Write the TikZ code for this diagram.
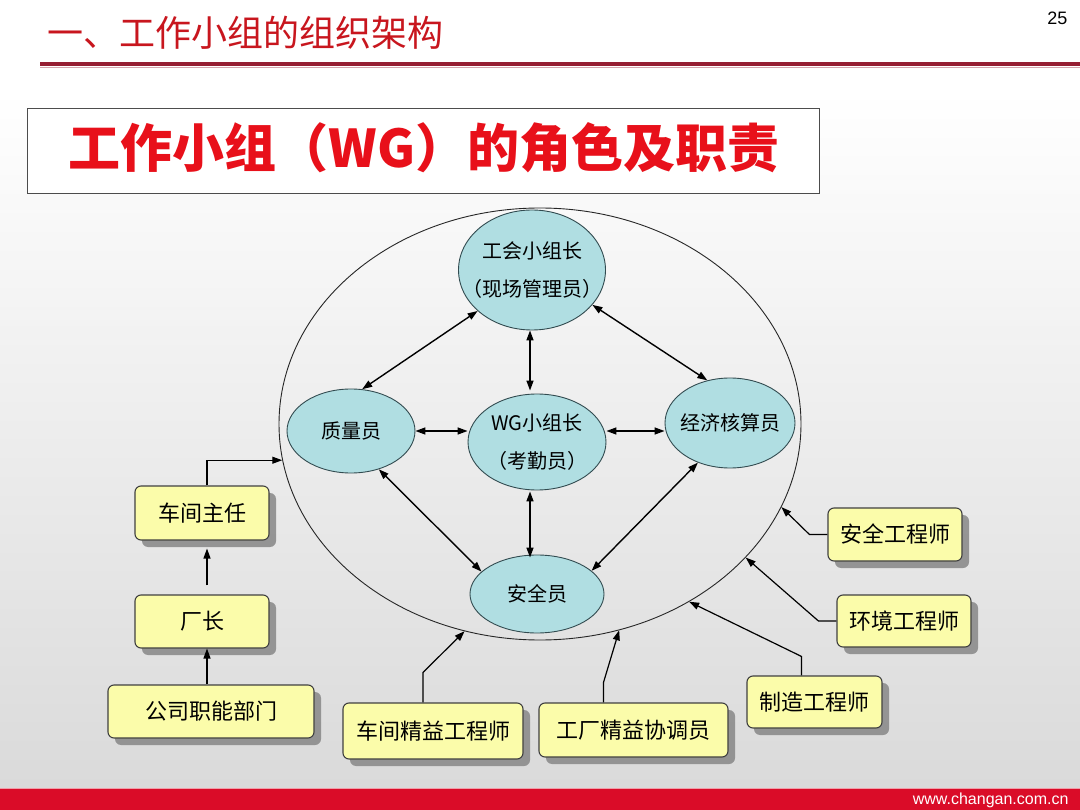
\documentclass[tikz,border=0pt]{standalone}
\usepackage{fontspec}
\setmainfont{Noto Sans CJK SC}
\newfontfamily\arial{Liberation Sans}
\usetikzlibrary{shapes.geometric,shadows,arrows.meta}
\definecolor{titlered}{RGB}{200,22,30}
\definecolor{boxred}{RGB}{232,16,26}
\definecolor{linered}{RGB}{150,30,50}
\definecolor{bandred}{RGB}{218,12,40}
\definecolor{ellfill}{RGB}{176,222,226}
\definecolor{ellborder}{RGB}{50,75,80}
\definecolor{yfill}{RGB}{251,252,170}
\definecolor{bggray}{RGB}{218,218,218}
\tikzset{
  role/.style={ellipse, draw=ellborder, line width=0.9pt, fill=ellfill, inner sep=0pt},
  roletext/.style={align=center, inner sep=0pt, font=\fontsize{20}{38}\selectfont},
  ybox/.style={rectangle, rounded corners=6pt, draw=black!75, line width=1.1pt, fill=yfill,
    inner sep=0pt, font=\fontsize{22}{26}\selectfont,
    drop shadow={shadow xshift=7pt, shadow yshift=-7pt, fill=black!45, opacity=0.9}},
  link/.style={line width=1.4pt, {Triangle[length=10pt,width=7pt]}-{Triangle[length=10pt,width=7pt]}},
  feed/.style={line width=1.2pt, -{Triangle[length=10pt,width=7pt]}},
}
\begin{document}
\begin{tikzpicture}[x=1pt,y=-1pt]
\useasboundingbox (0,0) rectangle (1080,810);
% background
\fill[white] (0,0) rectangle (1080,90);
\shade[top color=white, bottom color=bggray] (0,90) rectangle (1080,788);
% header
\node[font=\fontsize{36}{40}\selectfont, text=titlered, anchor=west] (maintitle) at (44,33) {一、工作小组的组织架构};
\node[font=\arial\fontsize{18}{20}\selectfont, anchor=east] (pagenum) at (1071,18) {25};
\draw[linered, line width=3.5pt] (40,64) -- (1080,64);
\draw[linered!40, line width=1pt] (40,67.5) -- (1080,67.5);
% footer band
\fill[bandred] (0,788) rectangle (1080,810);
\draw[bandred!40, line width=1pt] (0,788) -- (1080,788);
\node[font=\arial\fontsize{16}{18}\selectfont, text=white, anchor=east] (url) at (1072,800) {www.changan.com.cn};
% title box
\node[draw=black!70, line width=0.8pt, fill=white, minimum width=792pt, minimum height=85pt,
  inner sep=0pt] (tbox) at (423,150.5) {};
\node[font=\fontsize{52}{58}\selectfont\bfseries, text=boxred] (ttext) at (424,148) {工作小组（WG）的角色及职责};
% big ellipse
\node[ellipse, draw=black!85, line width=0.9pt, minimum width=522pt, minimum height=432pt, inner sep=0pt] (big) at (540,424) {};
% roles
\node[role, minimum width=147pt, minimum height=120pt] (gh) at (532,270) {};
\node[roletext] (ghtxt) at (gh.center) {工会小组长\\（现场管理员）};
\node[role, minimum width=128pt, minimum height=84pt] (zl) at (351,431) {};
\node[roletext] (zltxt) at (zl.center) {质量员};
\node[role, minimum width=138pt, minimum height=96pt] (wg) at (537,442) {};
\node[roletext] (wgtxt) at (wg.center) {WG小组长\\（考勤员）};
\node[role, minimum width=130pt, minimum height=90pt] (jj) at (730,423) {};
\node[roletext] (jjtxt) at (jj.center) {经济核算员};
\node[role, minimum width=134pt, minimum height=78pt] (aq) at (537,594) {};
\node[roletext] (aqtxt) at (aq.center) {安全员};
% links
\draw[link] (gh.217) -- (zl.75);
\draw[link] ([xshift=-2pt]gh.south) -- ([xshift=-2pt,yshift=3pt]gh.south |- wg.north);
\draw[link] (gh.330) -- (jj.118);
\draw[link] (zl.east) -- (wg.west |- zl.east);
\draw[link] (wg.east |- zl.east) -- (jj.west |- zl.east);
\draw[link] (zl.306) -- (aq.158);
\draw[link] ([xshift=-7pt,yshift=-1pt]wg.south) -- ([xshift=-7pt,yshift=-3pt]aq.north);
\draw[link] (jj.231) -- (aq.23);
% yellow boxes
\node[ybox, minimum width=134pt, minimum height=54pt] (czr) at (202,513) {车间主任};
\node[ybox, minimum width=134pt, minimum height=53pt] (cz) at (202,621.5) {厂长};
\node[ybox, minimum width=206pt, minimum height=53pt] (gs) at (211,711.5) {公司职能部门};
\node[ybox, minimum width=180pt, minimum height=56pt] (cjj) at (433,731) {车间精益工程师};
\node[ybox, minimum width=189pt, minimum height=54pt] (gcj) at (633.5,730) {工厂精益协调员};
\node[ybox, minimum width=135pt, minimum height=52pt] (zz) at (814.5,702) {制造工程师};
\node[ybox, minimum width=134pt, minimum height=52pt] (hj) at (904,621) {环境工程师};
\node[ybox, minimum width=134pt, minimum height=53pt] (aqgc) at (895,534.5) {安全工程师};
% feeds
\draw[feed] ([xshift=5pt]czr.north) |- (big.188);
\draw[feed, shorten <=9pt] ([xshift=5pt]cz.north) -- ([xshift=5pt,yshift=-8pt]czr.south);
\draw[feed] ([xshift=-4pt]gs.north) -- ([xshift=5pt]cz.south);
\draw[feed] ([xshift=-10pt]cjj.north) -- ++(0,-30) -- (big.250.6);
\draw[feed] ([xshift=-30pt]gcj.north) -- ++(0,-20) -- (big.291.5);
\draw[feed] ([xshift=-13pt]zz.north) -- ++(0,-19) -- (big.310.5);
\draw[feed] (hj.west) -- ++(-18,0) -- (big.327);
\draw[feed] (aqgc.west) -- ++(-18,0) -- (big.341.6);
\end{tikzpicture}
\end{document}
